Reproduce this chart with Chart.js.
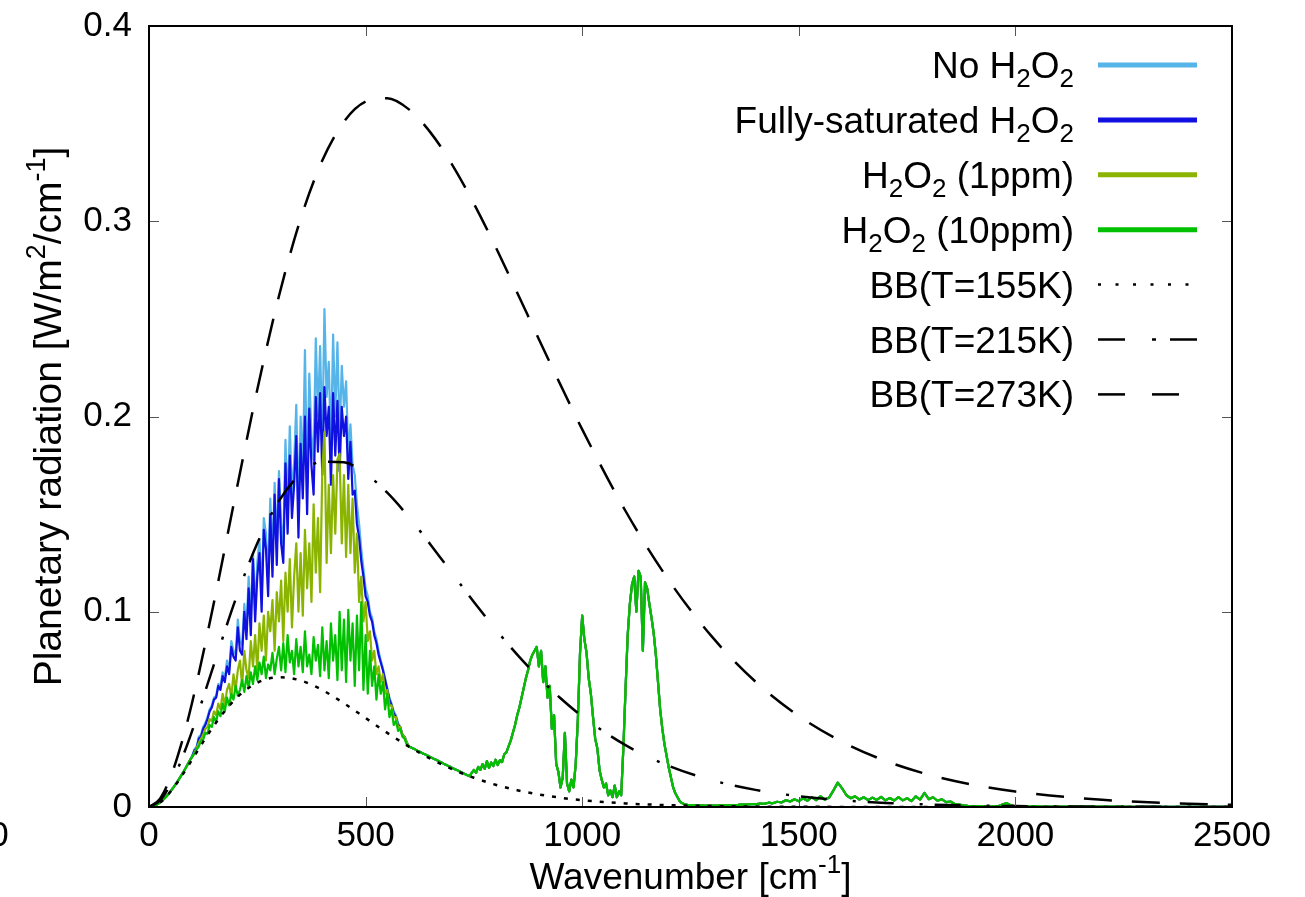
<!DOCTYPE html>
<html>
<head>
<meta charset="utf-8">
<script src="https://cdn.jsdelivr.net/npm/chart.js@4.4.1/dist/chart.umd.min.js"></script>
<style>
  html, body { margin: 0; padding: 0; background: #fff; }
</style>
</head>
<body>
<canvas id="chart" width="1305" height="897"></canvas>
<script>
// Wavenumber grid of the spectra: 0-1300 every 5 cm-1, 1310-2500 every 10 cm-1
const FINE_STEP = 5;
const FINE_END = 1300;
const COARSE_START = 1310;
const COARSE_STEP = 10;
const X_END = 2500;

// 0-95 cm-1, the same for every spectrum
const commonLow = [
    0, 0.0001, 0.0004, 0.0009, 0.0015, 0.0023, 0.0032, 0.0043, 0.0054, 0.0067,
    0.0081, 0.0096, 0.0112, 0.0128, 0.0145, 0.0163, 0.0182, 0.0201, 0.0222, 0.0242
];

// 100-600 cm-1 for each spectrum (W/m2/cm-1)
const noH2O2Low = [
    0.0265, 0.0295, 0.031, 0.036, 0.037, 0.041, 0.043, 0.046, 0.05, 0.052,
    0.056, 0.057, 0.063, 0.062, 0.069, 0.066, 0.075, 0.07, 0.085, 0.08,
    0.078, 0.096, 0.085, 0.083, 0.104, 0.09, 0.118, 0.096, 0.13, 0.102,
    0.125, 0.137, 0.108, 0.148, 0.14, 0.118, 0.158, 0.128, 0.166, 0.132,
    0.172, 0.145, 0.135, 0.188, 0.152, 0.195, 0.16, 0.176, 0.206, 0.15,
    0.2, 0.17, 0.234, 0.165, 0.222, 0.19, 0.178, 0.24, 0.2, 0.236,
    0.185, 0.255, 0.21, 0.228, 0.182, 0.242, 0.2, 0.238, 0.19, 0.226,
    0.205, 0.218, 0.18, 0.196, 0.175, 0.17, 0.155, 0.145, 0.132, 0.122,
    0.112, 0.108, 0.1, 0.097, 0.09, 0.086, 0.08, 0.075, 0.071, 0.066,
    0.061, 0.056, 0.053, 0.049, 0.047, 0.043, 0.041, 0.037, 0.036, 0.033,
    0.031
];
const fullSatLow = [
    0.026, 0.029, 0.03, 0.035, 0.036, 0.04, 0.042, 0.045, 0.049, 0.051,
    0.055, 0.056, 0.062, 0.06, 0.067, 0.064, 0.072, 0.068, 0.082, 0.077,
    0.075, 0.092, 0.08, 0.078, 0.1, 0.086, 0.112, 0.088, 0.127, 0.095,
    0.118, 0.13, 0.1, 0.142, 0.132, 0.108, 0.15, 0.118, 0.16, 0.124,
    0.168, 0.135, 0.125, 0.176, 0.14, 0.18, 0.148, 0.165, 0.19, 0.138,
    0.186, 0.158, 0.2, 0.15, 0.204, 0.175, 0.16, 0.21, 0.182, 0.212,
    0.17, 0.215, 0.19, 0.205, 0.165, 0.212, 0.18, 0.208, 0.172, 0.205,
    0.19, 0.2, 0.168, 0.187, 0.16, 0.162, 0.145, 0.138, 0.126, 0.118,
    0.108, 0.105, 0.098, 0.095, 0.088, 0.084, 0.078, 0.074, 0.07, 0.065,
    0.06, 0.055, 0.052, 0.048, 0.046, 0.042, 0.041, 0.037, 0.036, 0.033,
    0.031
];
const ppm1Low = [
    0.0258, 0.028, 0.03, 0.033, 0.035, 0.037, 0.04, 0.041, 0.045, 0.044,
    0.049, 0.047, 0.053, 0.05, 0.058, 0.052, 0.06, 0.063, 0.056, 0.068,
    0.06, 0.07, 0.075, 0.062, 0.08, 0.07, 0.066, 0.085, 0.072, 0.088,
    0.07, 0.094, 0.08, 0.098, 0.075, 0.1, 0.09, 0.106, 0.08, 0.11,
    0.095, 0.116, 0.085, 0.12, 0.1, 0.127, 0.092, 0.118, 0.135, 0.1,
    0.13, 0.098, 0.142, 0.112, 0.135, 0.105, 0.155, 0.12, 0.148, 0.11,
    0.172, 0.192, 0.125, 0.165, 0.13, 0.17, 0.14, 0.178, 0.181, 0.135,
    0.17, 0.128, 0.165, 0.13, 0.158, 0.12, 0.14, 0.105, 0.118, 0.095,
    0.105, 0.085, 0.09, 0.075, 0.08, 0.068, 0.072, 0.064, 0.068, 0.058,
    0.06, 0.052, 0.052, 0.046, 0.046, 0.041, 0.041, 0.037, 0.036, 0.033,
    0.031
];
const ppm10Low = [
    0.0257, 0.0275, 0.0295, 0.031, 0.034, 0.0345, 0.038, 0.0375, 0.042, 0.041,
    0.046, 0.0435, 0.049, 0.0465, 0.053, 0.049, 0.056, 0.052, 0.058, 0.055,
    0.062, 0.057, 0.06, 0.065, 0.059, 0.067, 0.061, 0.069, 0.063, 0.072,
    0.065, 0.074, 0.068, 0.077, 0.066, 0.073, 0.07, 0.079, 0.068, 0.076,
    0.082, 0.07, 0.084, 0.069, 0.088, 0.074, 0.08, 0.068, 0.086, 0.072,
    0.082, 0.069, 0.09, 0.072, 0.078, 0.068, 0.087, 0.075, 0.083, 0.067,
    0.092, 0.07, 0.085, 0.066, 0.094, 0.075, 0.088, 0.065, 0.1, 0.07,
    0.096, 0.064, 0.101, 0.075, 0.094, 0.062, 0.098, 0.07, 0.105, 0.06,
    0.088, 0.058, 0.08, 0.062, 0.072, 0.055, 0.068, 0.058, 0.064, 0.05,
    0.058, 0.046, 0.05, 0.042, 0.044, 0.039, 0.04, 0.036, 0.035, 0.032,
    0.031
];

// 605-1300 cm-1, shared by all spectra (they overlap here)
const tailMid = [
    0.0305, 0.0299, 0.0294, 0.0288, 0.0283, 0.0277, 0.0272, 0.0266, 0.0261, 0.0255,
    0.025, 0.0244, 0.0239, 0.0233, 0.0228, 0.0222, 0.0217, 0.0211, 0.0206, 0.02,
    0.0195, 0.019, 0.0184, 0.0179, 0.0173, 0.0168, 0.0163, 0.0158, 0.0175, 0.019,
    0.0175, 0.0205, 0.019, 0.022, 0.0195, 0.0235, 0.02, 0.0228, 0.021, 0.0242,
    0.0215, 0.024, 0.023, 0.027, 0.028, 0.031, 0.034, 0.038, 0.042, 0.047,
    0.051, 0.056, 0.061, 0.066, 0.07, 0.075, 0.078, 0.08, 0.082, 0.072,
    0.08, 0.064, 0.072, 0.056, 0.062, 0.04, 0.047, 0.022, 0.018, 0.01,
    0.015, 0.038, 0.012, 0.008, 0.014, 0.01, 0.022, 0.045, 0.079, 0.098,
    0.086, 0.079, 0.066, 0.058, 0.046, 0.035, 0.03, 0.019, 0.014, 0.01,
    0.012, 0.006, 0.0085, 0.005, 0.011, 0.005, 0.008, 0.006, 0.03, 0.06,
    0.088, 0.104, 0.114, 0.118, 0.1, 0.121, 0.118, 0.08, 0.115, 0.112,
    0.104, 0.097, 0.089, 0.078, 0.064, 0.05, 0.04, 0.032, 0.026, 0.02,
    0.015, 0.01, 0.007, 0.005, 0.003, 0.002, 0.0015, 0.0012, 0.001, 0.001,
    0.0009, 0.0009, 0.0008, 0.0008, 0.0008, 0.0007, 0.0007, 0.0007, 0.0007, 0.0007
];
// 1310-2500 cm-1, shared
const tailFar = [
    0.0007, 0.0008, 0.0008, 0.0009, 0.001, 0.0011, 0.0013, 0.0012, 0.0015, 0.0014,
    0.0018, 0.0016, 0.0022, 0.0019, 0.0027, 0.0023, 0.0035, 0.0028, 0.004, 0.003,
    0.0045, 0.0032, 0.005, 0.0035, 0.0055, 0.0038, 0.0048, 0.0085, 0.0125, 0.0095,
    0.006, 0.0045, 0.0055, 0.0038, 0.005, 0.0035, 0.0048, 0.0036, 0.0052, 0.0034,
    0.0046, 0.0033, 0.0051, 0.0034, 0.0045, 0.003, 0.0055, 0.0038, 0.0072, 0.004,
    0.005, 0.0032, 0.004, 0.0025, 0.0028, 0.0015, 0.0012, 0.0008, 0.0006, 0.0005,
    0.0004, 0.0004, 0.0003, 0.0003, 0.0003, 0.0004, 0.0012, 0.002, 0.0008, 0.0004,
    0.0003, 0.0003, 0.0003, 0.0003, 0.0003, 0.0002, 0.0002, 0.0002, 0.0002, 0.0002,
    0.0002, 0.0002, 0.0002, 0.0002, 0.0002, 0.0002, 0.0002, 0.0002, 0.0002, 0.0002,
    0.0002, 0.0002, 0.0002, 0.0002, 0.0002, 0.0001, 0.0001, 0.0001, 0.0001, 0.0001,
    0.0001, 0.0001, 0.0001, 0.0001, 0.0001, 0.0001, 0.0001, 0.0001, 0.0001, 0.0001,
    0.0001, 0.0001, 0.0001, 0.0001, 0.0001, 0.0001, 0.0001, 0.0001, 0.0001, 0.0001
];

// Blackbody curves, read at these wavenumbers
const bbWave = [0, 25, 50, 75, 100, 150, 200, 250, 300, 350, 400, 450, 500, 550, 600, 650, 700, 750,
    800, 850, 900, 950, 1000, 1100, 1200, 1300, 1400, 1500, 1600, 1700, 1800, 1900, 2000, 2200, 2400, 2500];
const bb155 = [0, 0.00224, 0.00792, 0.0157, 0.02445, 0.04175, 0.05542, 0.06366, 0.06648, 0.06478, 0.0599,
    0.05312, 0.04555, 0.03798, 0.03093, 0.02468, 0.01937, 0.01497, 0.01141, 0.00861, 0.00642, 0.00475,
    0.00348, 0.00183, 0.00094, 0.00047, 0.00023, 0.00011, 0.00005, 0.00002, 0.00001, 0, 0, 0, 0, 0];
const bb215 = [0, 0.00321, 0.01177, 0.02422, 0.03927, 0.07305, 0.10641, 0.13508, 0.15674, 0.17059, 0.17687,
    0.17651, 0.17075, 0.16098, 0.14846, 0.13437, 0.11965, 0.10504, 0.09105, 0.07805, 0.06624, 0.05571,
    0.04648, 0.03166, 0.02105, 0.0137, 0.00877, 0.00552, 0.00343, 0.00211, 0.00128, 0.00077, 0.00046,
    0.00016, 0.000055, 0.000032];
const bb273 = [0, 0.00415, 0.01551, 0.03256, 0.05392, 0.10483, 0.16013, 0.2138, 0.2617, 0.30122, 0.33108,
    0.35096, 0.36127, 0.36296, 0.35729, 0.3454, 0.3289, 0.309, 0.2869, 0.2634, 0.2396, 0.2162, 0.1934,
    0.1516, 0.1161, 0.0871, 0.0642, 0.0466, 0.0334, 0.02364, 0.01657, 0.0115, 0.00792, 0.00367, 0.00166,
    0.00111];

// Axes
const xTickStep = 500;
const yMax = 0.4;
const yTickStep = 0.1;

const FONT = '"Liberation Sans", Arial, Helvetica, sans-serif';
const TICK_FONT = 35;
const TEXT_FONT = 37;
const YTITLE_FONT = 39;
const TICK_LEN = 10;

const spectrumWave = [];
for (let w = 0; w <= FINE_END; w += FINE_STEP) spectrumWave.push(w);
for (let w = COARSE_START; w <= X_END; w += COARSE_STEP) spectrumWave.push(w);

function toPoints(xs, ys) {
    return xs.map((x, i) => ({ x: x, y: ys[i] }));
}

function spectrum(label, color, low, order) {
    return {
        label: label,
        data: toPoints(spectrumWave, commonLow.concat(low, tailMid, tailFar)),
        borderColor: color,
        borderWidth: 2.2,
        borderJoinStyle: 'round',
        pointRadius: 0,
        tension: 0,
        order: order,
        legendWidth: 5,
        legendDash: []
    };
}

function blackbody(label, values, dash, legendDash) {
    return {
        label: label,
        data: toPoints(bbWave, values),
        borderColor: '#000',
        borderWidth: 2.5,
        borderDash: dash,
        pointRadius: 0,
        cubicInterpolationMode: 'monotone',
        order: 0,
        legendWidth: 2.5,
        legendDash: legendDash
    };
}

// text with _{sub} and ^{sup} parts
function richParts(str) {
    const parts = [];
    const re = /([_^])\{([^}]*)\}/g;
    let last = 0, m;
    while ((m = re.exec(str))) {
        if (m.index > last) parts.push({ t: str.slice(last, m.index), k: '' });
        parts.push({ t: m[2], k: m[1] });
        last = re.lastIndex;
    }
    if (last < str.length) parts.push({ t: str.slice(last), k: '' });
    return parts;
}

function drawRich(ctx, str, x, y, size, align) {
    const parts = richParts(str);
    const small = Math.round(size * 0.7);
    const fontFor = k => (k ? small : size) + 'px ' + FONT;
    let total = 0;
    parts.forEach(p => {
        ctx.font = fontFor(p.k);
        p.w = ctx.measureText(p.t).width;
        total += p.w;
    });
    let cx = align === 'right' ? x - total : align === 'center' ? x - total / 2 : x;
    ctx.textAlign = 'left';
    ctx.textBaseline = 'alphabetic';
    parts.forEach(p => {
        ctx.font = fontFor(p.k);
        const dy = p.k === '_' ? size * 0.24 : p.k === '^' ? -size * 0.42 : 0;
        ctx.fillText(p.t, cx, y + dy);
        cx += p.w;
    });
}

const decorations = {
    id: 'decorations',
    afterDraw(chart) {
        const ctx = chart.ctx;
        const a = chart.chartArea;
        const xs = chart.scales.x, ys = chart.scales.y;
        ctx.save();

        // inward ticks on all four sides
        ctx.strokeStyle = '#555';
        ctx.lineWidth = 1;
        ctx.beginPath();
        xs.ticks.forEach(t => {
            const px = Math.round(xs.getPixelForValue(t.value)) + 0.5;
            ctx.moveTo(px, a.bottom); ctx.lineTo(px, a.bottom - TICK_LEN);
            ctx.moveTo(px, a.top); ctx.lineTo(px, a.top + TICK_LEN);
        });
        ys.ticks.forEach(t => {
            const py = Math.round(ys.getPixelForValue(t.value)) + 0.5;
            ctx.moveTo(a.left, py); ctx.lineTo(a.left + TICK_LEN, py);
            ctx.moveTo(a.right, py); ctx.lineTo(a.right - TICK_LEN, py);
        });
        ctx.stroke();

        // frame
        ctx.strokeStyle = '#000';
        ctx.lineWidth = 2;
        ctx.strokeRect(a.left, a.top, a.right - a.left, a.bottom - a.top);

        // axis titles
        ctx.fillStyle = '#000';
        drawRich(ctx, 'Wavenumber [cm^{-1}]', (a.left + a.right) / 2, 889, TEXT_FONT, 'center');
        ctx.save();
        ctx.translate(61, (a.top + a.bottom) / 2);
        ctx.rotate(-Math.PI / 2);
        drawRich(ctx, 'Planetary radiation [W/m^{2}/cm^{-1}]', 0, 0, YTITLE_FONT, 'center');
        ctx.restore();

        // cut-off label at the far left edge of the original figure
        ctx.font = TICK_FONT + 'px ' + FONT;
        ctx.textAlign = 'center';
        ctx.textBaseline = 'alphabetic';
        ctx.fillText('0', -1, 846);

        // legend: text right-aligned, line sample to its right
        chart.data.datasets.forEach((ds, i) => {
            const rowY = 65 + i * 54.9;
            ctx.fillStyle = '#000';
            drawRich(ctx, ds.label, 1074, rowY + 13, TEXT_FONT, 'right');
            ctx.strokeStyle = ds.borderColor;
            ctx.lineWidth = ds.legendWidth;
            ctx.setLineDash(ds.legendDash);
            ctx.lineCap = 'butt';
            ctx.beginPath();
            ctx.moveTo(1098, rowY);
            ctx.lineTo(1197, rowY);
            ctx.stroke();
            ctx.setLineDash([]);
        });

        ctx.restore();
    }
};

const datasets = [
    spectrum('No H_{2}O_{2}', '#56b4e9', noH2O2Low, 4),
    spectrum('Fully-saturated H_{2}O_{2}', '#1010e0', fullSatLow, 3),
    spectrum('H_{2}O_{2} (1ppm)', '#8ab400', ppm1Low, 2),
    spectrum('H_{2}O_{2} (10ppm)', '#00c000', ppm10Low, 1),
    blackbody('BB(T=155K)', bb155, [4, 8], [3, 14.5]),
    blackbody('BB(T=215K)', bb215, [26, 26, 3, 12], [27, 27, 4, 14]),
    blackbody('BB(T=273K)', bb273, [28, 20], [27, 27])
];

new Chart(document.getElementById('chart').getContext('2d'), {
    type: 'line',
    data: { datasets: datasets },
    options: {
        responsive: false,
        animation: false,
        devicePixelRatio: 1,
        events: [],
        layout: { padding: { top: 26, right: 73, left: 0, bottom: 0 } },
        plugins: {
            legend: { display: false },
            tooltip: { enabled: false }
        },
        scales: {
            x: {
                type: 'linear',
                min: 0,
                max: X_END,
                grid: { display: false, drawTicks: false },
                border: { display: false },
                ticks: {
                    stepSize: xTickStep,
                    maxRotation: 0,
                    padding: 8,
                    color: '#000',
                    font: { family: FONT, size: TICK_FONT },
                    callback: v => String(v)
                },
                afterFit(scale) {
                    scale.height = 90;
                    scale.paddingLeft = 0;
                    scale.paddingRight = 0;
                }
            },
            y: {
                min: 0,
                max: yMax,
                grid: { display: false, drawTicks: false },
                border: { display: false },
                ticks: {
                    stepSize: yTickStep,
                    padding: 17,
                    color: '#000',
                    font: { family: FONT, size: TICK_FONT },
                    callback: v => (v === 0 ? '0' : v.toFixed(1))
                },
                afterFit(scale) {
                    scale.width = 149;
                    scale.paddingTop = 0;
                    scale.paddingBottom = 0;
                }
            }
        }
    },
    plugins: [decorations]
});
</script>
</body>
</html>
